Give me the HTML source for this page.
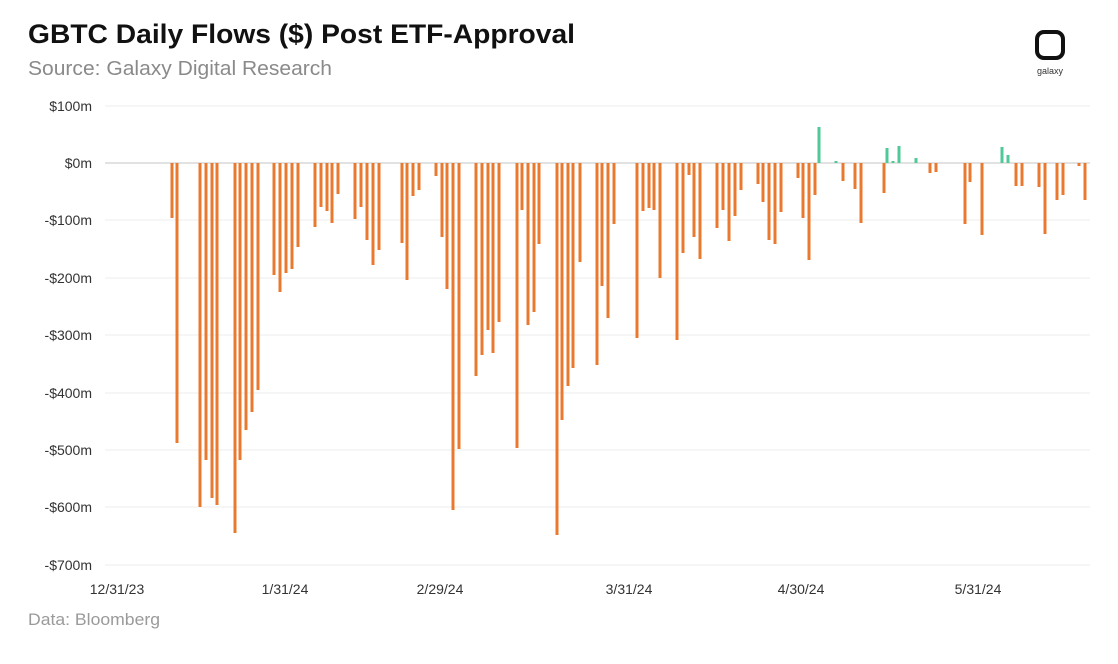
<!DOCTYPE html>
<html><head><meta charset="utf-8"><style>
body{margin:0;background:#fff;width:1118px;height:659px;overflow:hidden;font-family:"Liberation Sans",sans-serif}
</style></head><body>
<svg width="1118" height="659" xmlns="http://www.w3.org/2000/svg" font-family="Liberation Sans, sans-serif">
<text x="28" y="43" font-size="27" font-weight="bold" fill="#111" textLength="547" lengthAdjust="spacingAndGlyphs">GBTC Daily Flows ($) Post ETF-Approval</text>
<text x="28" y="75" font-size="20" fill="#8a8a8a" textLength="304" lengthAdjust="spacingAndGlyphs">Source: Galaxy Digital Research</text>
<rect x="1037" y="32" width="26" height="26" rx="7" fill="none" stroke="#111" stroke-width="4"/>
<text x="1050" y="74" font-size="9" fill="#333" text-anchor="middle">galaxy</text>
<g stroke="#eeeeee" stroke-width="1">
<line x1="105" x2="1090" y1="106" y2="106"/><line x1="105" x2="1090" y1="220" y2="220"/><line x1="105" x2="1090" y1="278" y2="278"/><line x1="105" x2="1090" y1="335" y2="335"/><line x1="105" x2="1090" y1="393" y2="393"/><line x1="105" x2="1090" y1="450" y2="450"/><line x1="105" x2="1090" y1="507" y2="507"/><line x1="105" x2="1090" y1="565" y2="565"/>
</g>
<line x1="105" x2="1090" y1="163" y2="163" stroke="#d0d0d0" stroke-width="1.2"/>
<g font-size="14" fill="#333" text-anchor="end">
<text x="92" y="111">$100m</text><text x="92" y="168">$0m</text><text x="92" y="225">-$100m</text><text x="92" y="283">-$200m</text><text x="92" y="340">-$300m</text><text x="92" y="398">-$400m</text><text x="92" y="455">-$500m</text><text x="92" y="512">-$600m</text><text x="92" y="570">-$700m</text>
</g>
<g font-size="14" fill="#333" text-anchor="middle">
<text x="117" y="594">12/31/23</text><text x="285" y="594">1/31/24</text><text x="440" y="594">2/29/24</text><text x="629" y="594">3/31/24</text><text x="801" y="594">4/30/24</text><text x="978" y="594">5/31/24</text>
</g>
<text x="28" y="625" font-size="17" fill="#9a9a9a" textLength="132" lengthAdjust="spacingAndGlyphs">Data: Bloomberg</text>
<g fill="#e8792f" id="bars"></g>
<g fill="#4fc997">
<rect x="817.5" y="127" width="3" height="36"/><rect x="834.5" y="161" width="3" height="2"/><rect x="885.5" y="148" width="3" height="15"/><rect x="891.5" y="161" width="3" height="2"/><rect x="897.5" y="146" width="3" height="17"/><rect x="914.5" y="158" width="3" height="5"/><rect x="1000.5" y="147" width="3" height="16"/><rect x="1006.5" y="155" width="3" height="8"/>
</g>
</svg>
<script>
const d=[[172,218],[177,443],[200,507],[206,460],[212,498],[217,505],[235,533],[240,460],[246,430],[252,412],[258,390],[274,275],[280,292],[286,273],[292,269],[298,247],[315,227],[321,207],[327,211],[332,223],[338,194],[355,219],[361,207],[367,240],[373,265],[379,250],[402,243],[407,280],[413,196],[419,190],[436,176],[442,237],[447,289],[453,510],[459,449],[476,376],[482,355],[488,330],[493,353],[499,322],[517,448],[522,210],[528,325],[534,312],[539,244],[557,535],[562,420],[568,386],[573,368],[580,262],[597,365],[602,286],[608,318],[614,224],[637,338],[643,211],[649,208],[654,210],[660,278],[677,340],[683,253],[689,175],[694,237],[700,259],[717,228],[723,210],[729,241],[735,216],[741,190],[758,184],[763,202],[769,240],[775,244],[781,212],[798,178],[803,218],[809,260],[815,195],[843,181],[855,189],[861,223],[884,193],[930,173],[936,172],[965,224],[970,182],[982,235],[1016,186],[1022,186],[1039,187],[1045,234],[1057,200],[1063,195],[1079,166],[1085,200]];
const g=document.getElementById('bars');
for(const [x,b] of d){const r=document.createElementNS('http://www.w3.org/2000/svg','rect');r.setAttribute('x',x-1.5);r.setAttribute('y',163);r.setAttribute('width',3);r.setAttribute('height',b-163);g.appendChild(r);}
</script>
</body></html>
